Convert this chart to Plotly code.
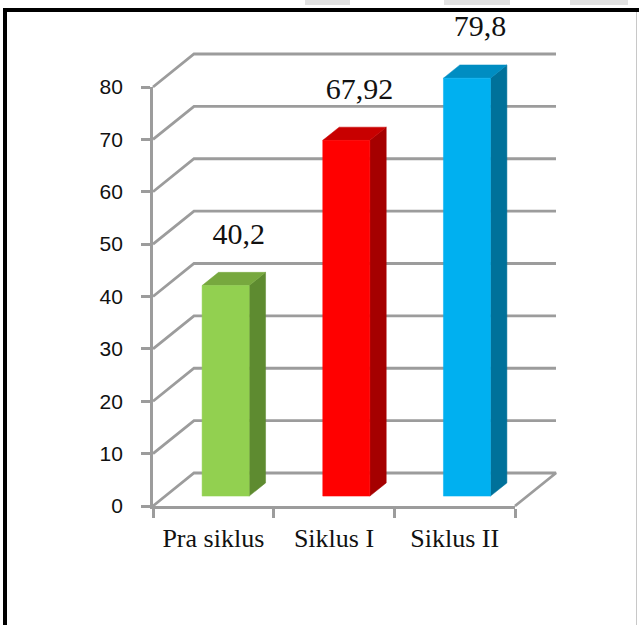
import plotly.graph_objects as go

# ---------------- data ----------------
categories = ["Pra siklus", "Siklus I", "Siklus II"]
values = [40.2, 67.92, 79.8]
value_labels = ["40,2", "67,92", "79,8"]
y_ticks = [0, 10, 20, 30, 40, 50, 60, 70, 80]

front_colors = ["#92D050", "#FF0000", "#00B0F0"]
side_colors = ["#5E8B30", "#A50000", "#00719A"]
top_colors = ["#77A83E", "#C80000", "#008DC2"]

# ---------------- geometry (pixels of the front plane) ----------------
W, H = 639, 625
X0_PX, X1_PX = 153, 515
Y0_PX, YMAX_PX = 506, 87
YMAX = 80
sx = (X1_PX - X0_PX) / len(categories)
sy = (Y0_PX - YMAX_PX) / YMAX
DX = 41 / sx          # depth offset in x data units
DY = 33 / sy          # depth offset in y data units
x_lo, x_hi = -0.5, len(categories) - 0.5

GRID = "#9C9C9C"

fig = go.Figure()

# back wall grid lines + left wall diagonals + floor
for v in y_ticks:
    xs = [x_lo, x_lo + DX, x_hi + DX]
    ys = [v, v + DY, v + DY]
    if v == 0:
        xs.append(x_hi)
        ys.append(0)
    fig.add_trace(go.Scatter(x=xs, y=ys, mode="lines",
                             line=dict(color=GRID, width=2.8),
                             hoverinfo="skip", showlegend=False))

# 3D bars
hw, d0, d1 = 0.195, 0.30, 0.70


def P(x, y, d):
    return x + d * DX, y + d * DY


def poly(pts, color):
    xs = [p[0] for p in pts] + [pts[0][0]]
    ys = [p[1] for p in pts] + [pts[0][1]]
    fig.add_trace(go.Scatter(x=xs, y=ys, mode="lines", fill="toself",
                             fillcolor=color, line=dict(color=color, width=0.5),
                             hoverinfo="skip", showlegend=False))


for i, v in enumerate(values):
    side = [P(i + hw, 0, d0), P(i + hw, 0, d1), P(i + hw, v, d1), P(i + hw, v, d0)]
    top = [P(i - hw, v, d0), P(i + hw, v, d0), P(i + hw, v, d1), P(i - hw, v, d1)]
    front = [P(i - hw, 0, d0), P(i + hw, 0, d0), P(i + hw, v, d0), P(i - hw, v, d0)]
    poly(side, side_colors[i])
    poly(top, top_colors[i])
    poly(front, front_colors[i])

# value labels
fig.add_trace(go.Scatter(
    x=[i + 0.62 * DX for i in range(len(values))],
    y=[v + 11.3 for v in values],
    mode="text", text=value_labels, textposition="middle center",
    textfont=dict(family="Liberation Serif", size=30, color="#111111"),
    cliponaxis=False, hoverinfo="skip", showlegend=False))

# invisible trace for the front axes subplot
fig.add_trace(go.Scatter(x=categories, y=values, xaxis="x2", yaxis="y2",
                         mode="markers", marker=dict(opacity=0),
                         hoverinfo="skip", showlegend=False))


def prect(x0, x1, y0, y1, color):
    return dict(type="rect", xref="paper", yref="paper", x0=x0 / W, x1=x1 / W,
                y0=(H - y1) / H, y1=(H - y0) / H, fillcolor=color,
                line=dict(width=0), layer="above")


fig.update_layout(
    template="none",
    width=W, height=H,
    margin=dict(l=0, r=0, t=0, b=0, pad=0, autoexpand=False),
    paper_bgcolor="white", plot_bgcolor="rgba(0,0,0,0)",
    showlegend=False,
    xaxis=dict(domain=[0, 1], range=[x_lo - X0_PX / sx, x_lo + (W - X0_PX) / sx],
               visible=False, fixedrange=True, automargin=False),
    yaxis=dict(domain=[0, 1], range=[-(H - Y0_PX) / sy, Y0_PX / sy],
               visible=False, fixedrange=True, automargin=False),
    xaxis2=dict(domain=[X0_PX / W, X1_PX / W], anchor="y2", type="category",
                range=[x_lo, x_hi], showline=True, linecolor=GRID, linewidth=2.8,
                ticks="outside", tickson="boundaries", ticklen=9, tickwidth=2.8,
                tickcolor=GRID, showgrid=False, zeroline=False, automargin=False,
                tickfont=dict(family="Liberation Serif", size=26, color="#111111"),
                ticklabelstandoff=7, fixedrange=True),
    yaxis2=dict(domain=[(H - Y0_PX) / H, (H - YMAX_PX) / H], anchor="x2",
                range=[0, YMAX], tickvals=y_ticks, showline=True, linecolor=GRID,
                linewidth=2.8, ticks="outside", ticklen=9, tickwidth=2.8,
                tickcolor=GRID, showgrid=False, zeroline=False, automargin=False,
                tickfont=dict(family="Liberation Sans", size=21, color="#111111"),
                ticklabelstandoff=14, fixedrange=True),
    shapes=[
        prect(3, 7, 8, H, "black"),
        prect(3, W, 8, 12, "black"),
        prect(636, 637, 12, H, "#C8C8C8"),
        prect(305, 350, 0, 5, "#E2E2E2"),
        prect(444, 510, 0, 5, "#E2E2E2"),
        prect(570, 628, 0, 5, "#E2E2E2"),
    ],
)

fig.write_html("out.html")
